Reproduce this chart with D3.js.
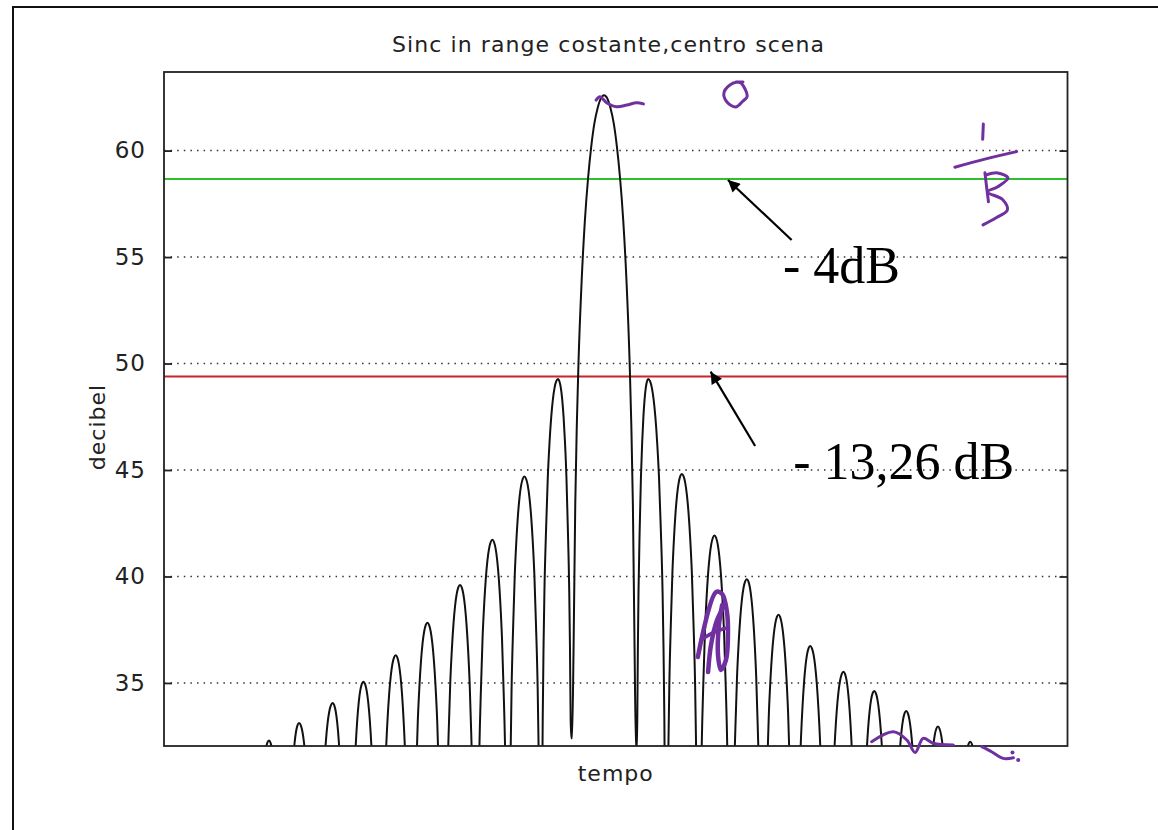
<!DOCTYPE html>
<html>
<head>
<meta charset="utf-8">
<script src="https://cdn.jsdelivr.net/npm/d3@7"></script>
<style>
  body { margin: 0; background: #fff; }
  svg { display: block; }
</style>
</head>
<body>
<div id="chart"></div>
<script>
// y ticks (decibel)
var yTicks = [35, 40, 45, 50, 55, 60];

// time in units of 1/B, main peak at 0
var mainPeakT = 0;
var mainPeakDb = 62.6;

// side lobes
var leftPeakT  = [-1.44, -2.49, -3.49, -4.5, -5.52, -6.51, -7.52, -8.48, -9.53, -10.47];
var leftPeakDb = [49.27, 44.69, 41.72, 39.6, 37.83, 36.3, 35.06, 34.06, 33.12, 32.3];
var leftNullT  = [-1.0, -1.97, -2.99, -4.0, -5.01, -6.02, -7.02, -8.0, -9.01, -10.0, -10.97];
var leftNullDb = [32.4, 20, 20, 20, 20, 20, 20, 20, 20, 20, 20];

var rightPeakT  = [1.38, 2.43, 3.45, 4.46, 5.45, 6.44, 7.48, 8.44, 9.44, 10.43, 11.44];
var rightPeakDb = [49.27, 44.81, 41.92, 39.87, 38.2, 36.74, 35.53, 34.62, 33.68, 32.95, 32.24];
var rightNullT  = [1.0, 1.94, 2.95, 3.95, 4.95, 5.95, 6.96, 7.96, 8.95, 9.94, 10.94, 11.94];
var rightNullDb = [31.8, 20, 20, 20, 20, 20, 20, 20, 20, 20, 20, 20];

// lobe half-profile (fraction null->peak, dB below peak)
var profFrac = [0, 0.05, 0.1, 0.15, 0.2, 0.3, 0.4, 0.5, 0.6, 0.7, 0.8, 0.9, 1];
var sideDrop = [0, -22, -16, -12.5, -10, -7, -4.6, -3, -1.8, -0.95, -0.4, -0.1, 0];
var mainDrop = [0, -25.6, -19.2, -15.4, -12.6, -8.7, -5.9, -3.9, -2.4, -1.3, -0.6, -0.15, 0];

// reference levels
var greenDb = 58.67;   // -4 dB
var redDb = 49.39;     // -13,26 dB

var title = 'Sinc in range costante,centro scena';
var xLabel = 'tempo';
var yLabel = 'decibel';

// annotations (data coords)
var notes = [
    {text: '- 4dB', t: 5.59, db: 53.78},
    {text: '- 13,26 dB', t: 5.91, db: 44.6}
];
var arrows = [
    {from: [5.86, 55.80], to: [3.87, 58.62]},
    {from: [4.72, 46.13], to: [3.33, 49.62]}
];

// handwritten purple marks (data coords)
var scribbles = [
    [[-0.25, 62.37], [-0.13, 62.53], [0.08, 62.25], [0.39, 62.06], [0.71, 62.14], [1.02, 62.25], [1.23, 62.19]],
    [[4.34, 63.22], [4.03, 63.17], [3.75, 62.75], [3.84, 62.28], [4.12, 62.05], [4.34, 62.33], [4.47, 62.54], [4.28, 63.17], [4.12, 63.22]],
    [[11.85, 61.25], [11.83, 60.53]],
    [[10.96, 59.22], [11.9, 59.6], [12.89, 59.95]],
    [[11.9, 58.96], [11.96, 58.2], [12.01, 57.6]],
    [[11.93, 58.85], [12.3, 58.95], [12.62, 58.71], [12.3, 58.3], [11.98, 58.06], [12.45, 57.7], [12.6, 57.2], [12.25, 56.85], [11.84, 56.51]],
    [[2.93, 36.22], [3.5, 39.27], [3.69, 39.18], [3.84, 38.33], [3.87, 37.16], [3.81, 36.08], [3.65, 35.61], [3.56, 36.31], [3.59, 37.72], [3.69, 38.66]],
    [[3.25, 35.51], [3.34, 36.78], [3.53, 37.96], [3.75, 38.61]],
    [[3.03, 37.02], [3.44, 37.39], [3.84, 37.58]],
    [[8.36, 32.24], [9.04, 32.71], [9.46, 32.32], [9.72, 31.73], [9.97, 32.4], [10.29, 32.17], [10.91, 32.09]],
    [[11.8, 32.01], [12.12, 31.76], [12.47, 31.46], [12.79, 31.49]]
];
var scribbleWidth = [3, 3, 3, 3, 3, 3, 4.5, 4.5, 3.5, 3, 3];
var scribbleDots = [[12.76, 31.74], [12.94, 31.38]];

var W = 1158, H = 830;
var plot = {left: 164, right: 1067.5, top: 72, bottom: 746};

var x = d3.scaleLinear().domain([-13.75, 14.48]).range([plot.left, plot.right]);
var y = d3.scaleLinear().domain([32.04, 63.69]).range([plot.bottom, plot.top]);

var svg = d3.select('#chart').append('svg')
    .attr('width', W)
    .attr('height', H);

svg.append('rect').attr('width', W).attr('height', H).attr('fill', '#fff');

// outer figure frame
svg.append('rect')
    .attr('x', 13).attr('y', 7)
    .attr('width', 1300).attr('height', 1000)
    .attr('fill', 'none')
    .attr('stroke', '#111')
    .attr('stroke-width', 2);

var defs = svg.append('defs');
defs.append('clipPath').attr('id', 'clip')
    .append('rect')
    .attr('x', plot.left).attr('y', plot.top)
    .attr('width', plot.right - plot.left)
    .attr('height', plot.bottom - plot.top);

defs.append('marker')
    .attr('id', 'arrowhead')
    .attr('viewBox', '0 0 10 10')
    .attr('refX', 10).attr('refY', 5)
    .attr('markerWidth', 17).attr('markerHeight', 12)
    .attr('markerUnits', 'userSpaceOnUse')
    .attr('orient', 'auto')
    .append('path')
    .attr('d', 'M0,0 L10,5 L0,10 z')
    .attr('fill', '#000');

// grid (dotted)
svg.append('g').selectAll('line')
    .data(yTicks)
    .enter().append('line')
    .attr('x1', plot.left).attr('x2', plot.right)
    .attr('y1', function (d) { return y(d); })
    .attr('y2', function (d) { return y(d); })
    .attr('stroke', '#333')
    .attr('stroke-width', 1.5)
    .attr('stroke-dasharray', '1.5,5.1');

// reference lines
svg.append('line')
    .attr('x1', plot.left).attr('x2', plot.right)
    .attr('y1', y(greenDb)).attr('y2', y(greenDb))
    .attr('stroke', '#2ec02e').attr('stroke-width', 2);
svg.append('line')
    .attr('x1', plot.left).attr('x2', plot.right)
    .attr('y1', y(redDb)).attr('y2', y(redDb))
    .attr('stroke', '#c8262a').attr('stroke-width', 2);

// build the trace from the lobes
function halfLobe(nT, nDb, pT, pDb, drops, rising) {
    var pts = [];
    profFrac.forEach(function (f, i) {
        var t = nT + (pT - nT) * f;
        var v = i === 0 ? nDb : Math.max(pDb + drops[i], nDb);
        pts.push([t, v]);
    });
    return rising ? pts : pts.reverse();
}

var trace = [[x.domain()[0], 20]];
for (var i = leftPeakT.length - 1; i >= 0; i--) {
    trace = trace.concat(halfLobe(leftNullT[i + 1], leftNullDb[i + 1], leftPeakT[i], leftPeakDb[i], sideDrop, true));
    trace = trace.concat(halfLobe(leftNullT[i], leftNullDb[i], leftPeakT[i], leftPeakDb[i], sideDrop, false).slice(1));
}
trace = trace.concat(halfLobe(leftNullT[0], leftNullDb[0], mainPeakT, mainPeakDb, mainDrop, true).slice(1));
trace = trace.concat(halfLobe(rightNullT[0], rightNullDb[0], mainPeakT, mainPeakDb, mainDrop, false).slice(1));
for (var j = 0; j < rightPeakT.length; j++) {
    trace = trace.concat(halfLobe(rightNullT[j], rightNullDb[j], rightPeakT[j], rightPeakDb[j], sideDrop, true).slice(1));
    trace = trace.concat(halfLobe(rightNullT[j + 1], rightNullDb[j + 1], rightPeakT[j], rightPeakDb[j], sideDrop, false).slice(1));
}
trace.push([x.domain()[1], 20]);

var line = d3.line()
    .x(function (d) { return x(d[0]); })
    .y(function (d) { return y(d[1]); })
    .curve(d3.curveMonotoneX);

svg.append('path')
    .datum(trace)
    .attr('clip-path', 'url(#clip)')
    .attr('d', line)
    .attr('fill', 'none')
    .attr('stroke', '#111')
    .attr('stroke-width', 2);

// axes box
svg.append('rect')
    .attr('x', plot.left).attr('y', plot.top)
    .attr('width', plot.right - plot.left)
    .attr('height', plot.bottom - plot.top)
    .attr('fill', 'none')
    .attr('stroke', '#222')
    .attr('stroke-width', 1.8);

var yAxisL = d3.axisLeft(y).tickValues(yTicks).tickSizeInner(-8).tickSizeOuter(0).tickPadding(18);
var yAxisR = d3.axisRight(y).tickValues(yTicks).tickSizeInner(-8).tickSizeOuter(0).tickFormat('');

var gl = svg.append('g').attr('transform', 'translate(' + plot.left + ',0)').call(yAxisL);
var gr = svg.append('g').attr('transform', 'translate(' + plot.right + ',0)').call(yAxisR);
[gl, gr].forEach(function (g) {
    g.select('.domain').remove();
    g.selectAll('.tick line').attr('stroke', '#222').attr('stroke-width', 1.8);
});
gl.selectAll('.tick text')
    .attr('fill', '#222')
    .style('font-family', 'DejaVu Sans, sans-serif')
    .style('font-size', '23px')
    .style('letter-spacing', '1px');

// title and labels
svg.append('text')
    .attr('x', 392).attr('y', 52)
    .attr('textLength', 432)
    .attr('lengthAdjust', 'spacing')
    .style('font-family', 'DejaVu Sans, sans-serif')
    .style('font-size', '22px')
    .attr('fill', '#222')
    .text(title);

svg.append('text')
    .attr('x', (plot.left + plot.right) / 2).attr('y', 781)
    .attr('text-anchor', 'middle')
    .style('font-family', 'DejaVu Sans, sans-serif')
    .style('font-size', '22px')
    .style('letter-spacing', '1px')
    .attr('fill', '#222')
    .text(xLabel);

svg.append('text')
    .attr('transform', 'translate(105,' + ((plot.top + plot.bottom) / 2 + 18) + ') rotate(-90)')
    .attr('text-anchor', 'middle')
    .style('font-family', 'DejaVu Sans, sans-serif')
    .style('font-size', '22px')
    .style('letter-spacing', '1px')
    .attr('fill', '#222')
    .text(yLabel);

// arrows and notes
svg.append('g').selectAll('line')
    .data(arrows)
    .enter().append('line')
    .attr('x1', function (d) { return x(d.from[0]); })
    .attr('y1', function (d) { return y(d.from[1]); })
    .attr('x2', function (d) { return x(d.to[0]); })
    .attr('y2', function (d) { return y(d.to[1]); })
    .attr('stroke', '#000')
    .attr('stroke-width', 2.2)
    .attr('marker-end', 'url(#arrowhead)');

svg.append('g').selectAll('text')
    .data(notes)
    .enter().append('text')
    .attr('x', function (d) { return x(d.t); })
    .attr('y', function (d) { return y(d.db); })
    .style('font-family', 'Liberation Serif, Times New Roman, serif')
    .style('font-size', '52px')
    .attr('fill', '#000')
    .text(function (d) { return d.text; });

// handwriting
var pen = d3.line()
    .x(function (d) { return x(d[0]); })
    .y(function (d) { return y(d[1]); })
    .curve(d3.curveCatmullRom);

svg.append('g').selectAll('path')
    .data(scribbles)
    .enter().append('path')
    .attr('d', pen)
    .attr('fill', 'none')
    .attr('stroke', '#7030a0')
    .attr('stroke-width', function (d, k) { return scribbleWidth[k]; })
    .attr('stroke-linecap', 'round')
    .attr('stroke-linejoin', 'round');

svg.append('g').selectAll('circle')
    .data(scribbleDots)
    .enter().append('circle')
    .attr('cx', function (d) { return x(d[0]); })
    .attr('cy', function (d) { return y(d[1]); })
    .attr('r', 2)
    .attr('fill', '#7030a0');
</script>
</body>
</html>
